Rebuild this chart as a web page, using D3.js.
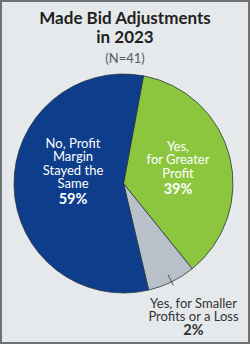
<!DOCTYPE html>
<html>
<head>
<meta charset="utf-8">
<script src="https://cdn.jsdelivr.net/npm/d3@7"></script>
<style>
  html, body { margin: 0; padding: 0; background: #fff; }
  svg { display: block; font-family: Lato, "Noto Sans", sans-serif; }
</style>
</head>
<body>
<div id="chart"></div>
<script>
// chart data
var categories = ["Yes, for Greater Profit", "Yes, for Smaller Profits or a Loss", "No, Profit Margin Stayed the Same"];
var pctLabels = ["39%", "2%", "59%"];
// slice sizes as they are drawn in the original (they don't quite match the labels)
var sliceShare = [36.3, 7.1, 56.6];
var labelLines = [["Yes,", "for Greater", "Profit"], ["Yes, for Smaller", "Profits or a Loss"], ["No, Profit", "Margin", "Stayed the", "Same"]];
var titleLines = ["Made Bid Adjustments", "in 2023"];
var subtitle = "(N=41)";

var width = 250, height = 344;
var colors = ["#8cc63f", "#b8c1ca", "#0d3d8b"];

var svg = d3.select('#chart').append('svg')
    .attr('width', width)
    .attr('height', height);

svg.append('rect')
    .attr('x', 1).attr('y', 1)
    .attr('width', width - 2).attr('height', height - 2)
    .attr('fill', '#e5e9ec')
    .attr('stroke', '#6f7275')
    .attr('stroke-width', 2);

// title
svg.selectAll('.title').data(titleLines).enter()
    .append('text')
    .attr('class', 'title')
    .attr('x', width / 2)
    .attr('y', function(d, i) { return 23.5 + i * 19.5; })
    .attr('text-anchor', 'middle')
    .attr('font-size', 17)
    .attr('font-weight', 'bold')
    .attr('fill', '#231f20')
    .text(function(d) { return d; });

svg.append('text')
    .attr('x', width / 2)
    .attr('y', 63)
    .attr('text-anchor', 'middle')
    .attr('font-size', 13)
    .attr('fill', '#58595b')
    .text(subtitle);

// pie
var cx = 123.5, cy = 183.5, r = 109.5;
var startAt = 10.5 * Math.PI / 180;

var pie = d3.pie().sort(null)
    .startAngle(startAt)
    .endAngle(startAt + 2 * Math.PI);
var arc = d3.arc().innerRadius(0).outerRadius(r);

var g = svg.append('g').attr('transform', 'translate(' + cx + ',' + cy + ')');

var arcs = pie(sliceShare);

g.selectAll('.slice').data(arcs).enter()
    .append('path')
    .attr('class', 'slice')
    .attr('d', arc)
    .attr('fill', function(d, i) { return colors[i]; })
    .attr('stroke', '#2b3540')
    .attr('stroke-width', 0.8);

// leader tick for the small slice
var small = arcs[1];
var mid = (small.startAngle + small.endAngle) / 2;
g.append('line')
    .attr('x1', Math.sin(mid) * (r - 8)).attr('y1', -Math.cos(mid) * (r - 8))
    .attr('x2', Math.sin(mid) * (r + 4)).attr('y2', -Math.cos(mid) * (r + 4))
    .attr('stroke', '#3a3a3a')
    .attr('stroke-width', 0.8);

// slice labels: [x, first baseline, gap before the percent] relative to the centre
var labelPos = [[54.5, -32.5, 3.5], [70, 124, 1], [-50.5, -35.5, 3]];
var labelFill = ["#ffffff", "#333333", "#ffffff"];
var step = 13.3;

labelLines.forEach(function(lines, k) {
    var t = g.append('text')
        .attr('text-anchor', 'middle')
        .attr('font-size', 13)
        .attr('fill', labelFill[k]);
    lines.forEach(function(s, j) {
        t.append('tspan')
            .attr('x', labelPos[k][0])
            .attr('y', labelPos[k][1] + j * step)
            .text(s);
    });
    t.append('tspan')
        .attr('x', labelPos[k][0])
        .attr('y', labelPos[k][1] + lines.length * step + labelPos[k][2])
        .attr('font-weight', 'bold')
        .attr('font-size', 14.5)
        .text(pctLabels[k]);
});
</script>
</body>
</html>
